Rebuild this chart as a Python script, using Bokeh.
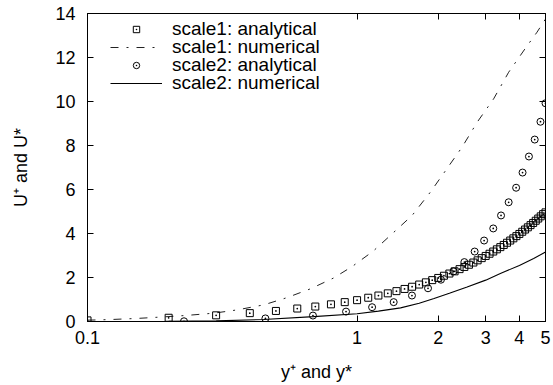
from bokeh.plotting import figure
from bokeh.models import (Range1d, FixedTicker, LinearAxis, LogAxis, Legend,
                          LegendItem, CustomJSTickFormatter, BasicTickFormatter)
from bokeh.embed import file_html
from bokeh.resources import INLINE

# scale1: analytical (squares)
sq_x = [0.1, 0.2, 0.3, 0.4, 0.5, 0.6, 0.7, 0.8, 0.9, 1.0,
        1.1, 1.2, 1.3, 1.4, 1.5, 1.6, 1.7, 1.8, 1.9, 2.0,
        2.1, 2.2, 2.3, 2.4, 2.5, 2.6, 2.7, 2.8, 2.9, 3.0,
        3.1, 3.2, 3.3, 3.4, 3.5, 3.6, 3.7, 3.8, 3.9, 4.0,
        4.1, 4.2, 4.3, 4.4, 4.5, 4.6, 4.7, 4.8, 4.9, 5.0]
sq_y = [0.05, 0.17, 0.28, 0.38, 0.48, 0.59, 0.68, 0.78, 0.88, 0.97,
        1.08, 1.18, 1.28, 1.38, 1.48, 1.58, 1.68, 1.78, 1.88, 1.98,
        2.08, 2.18, 2.28, 2.38, 2.48, 2.58, 2.68, 2.78, 2.88, 2.98,
        3.08, 3.18, 3.28, 3.38, 3.48, 3.58, 3.68, 3.78, 3.88, 3.98,
        4.08, 4.18, 4.28, 4.38, 4.48, 4.58, 4.68, 4.78, 4.88, 4.96]

# scale1: numerical (dash-dot line)
n1_x = [0.1, 0.122, 0.153, 0.192, 0.235, 0.295, 0.36, 0.452, 0.548, 0.673,
        0.816, 0.959, 1.148, 1.339, 1.6, 1.87, 2.13, 2.45, 2.79, 3.21,
        3.65, 4.2, 4.65, 5.0]
n1_y = [0.06, 0.09, 0.14, 0.21, 0.28, 0.38, 0.53, 0.76, 1.08, 1.49,
        1.97, 2.5, 3.2, 3.95, 4.82, 5.88, 6.86, 7.92, 9.06, 10.12,
        11.33, 12.4, 13.15, 13.75]

# scale2: analytical (circles)
c_x = [0.228, 0.457, 0.686, 0.91, 1.137, 1.367, 1.598, 1.833, 2.047, 2.28,
       2.5, 2.73, 2.96, 3.2, 3.42, 3.65, 3.89, 4.11, 4.34, 4.56, 4.79, 5.0]
c_y = [0.01, 0.14, 0.27, 0.45, 0.65, 0.88, 1.18, 1.51, 1.9, 2.28,
       2.7, 3.18, 3.68, 4.23, 4.82, 5.42, 6.08, 6.77, 7.5, 8.27, 9.08, 9.92]

# scale2: numerical (solid line)
n2_x = [0.1, 0.2, 0.3, 0.45, 0.69, 1.0, 1.2, 1.45, 1.7, 1.93, 2.2, 2.56,
        3.0, 3.4, 4.0, 4.52, 5.0]
n2_y = [0.0, 0.01, 0.03, 0.09, 0.22, 0.35, 0.47, 0.62, 0.83, 1.05, 1.28, 1.57,
        1.88, 2.18, 2.55, 2.86, 3.16]

x_ticks = [0.1, 1, 2, 3, 4, 5]
x_tick_labels = {0.1: "0.1", 1: "1", 2: "2", 3: "3", 4: "4", 5: "5"}
y_ticks = [0, 2, 4, 6, 8, 10, 12, 14]
legend_labels = ["scale1: analytical", "scale1: numerical",
                 "scale2: analytical", "scale2: numerical"]

FONT = "Liberation Sans"

p = figure(width=553, height=385, x_axis_type="log",
           x_range=Range1d(0.1, 5), y_range=Range1d(0, 14),
           output_backend="svg", toolbar_location=None,
           min_border_left=87, min_border_right=8,
           min_border_top=13, min_border_bottom=64)
p.xgrid.grid_line_color = None
p.ygrid.grid_line_color = None
p.outline_line_color = "black"
p.outline_line_width = 1

def style_axis(ax):
    ax.axis_line_color = "black"
    ax.major_tick_in = 6
    ax.major_tick_out = 0
    ax.minor_tick_in = 0
    ax.minor_tick_out = 0
    ax.major_tick_line_color = "black"
    ax.major_label_text_font = FONT
    ax.major_label_text_font_size = "18px"
    ax.major_label_text_color = "black"
    ax.axis_label_text_font = FONT
    ax.axis_label_text_font_size = "18px"
    ax.axis_label_text_font_style = "normal"
    ax.axis_label_text_color = "black"

xa = p.xaxis[0]
xa.ticker = FixedTicker(ticks=x_ticks, minor_ticks=[])
xa.formatter = BasicTickFormatter()
xa.major_label_overrides = x_tick_labels
xa.axis_label = "y⁺ and y*"
style_axis(xa)
xa.major_label_standoff = 9
xa.axis_label_standoff = 15

ya = p.yaxis[0]
ya.ticker = FixedTicker(ticks=y_ticks, minor_ticks=[])
ya.axis_label = "U⁺ and U*"
style_axis(ya)
ya.major_label_standoff = 12
ya.axis_label_standoff = 21

blank = CustomJSTickFormatter(code="return ''")
top = LogAxis(ticker=FixedTicker(ticks=x_ticks, minor_ticks=[]), formatter=blank)
style_axis(top)
top.major_label_standoff = 0
p.add_layout(top, "above")
right = LinearAxis(ticker=FixedTicker(ticks=y_ticks, minor_ticks=[]), formatter=blank)
style_axis(right)
right.major_label_standoff = 0
p.add_layout(right, "right")

r_n2 = p.line(n2_x, n2_y, line_color="black", line_width=1.1)
r_n1 = p.line(n1_x, n1_y, line_color="#222222", line_width=1, line_dash="8 8 2 8")
r_sq = p.scatter(sq_x, sq_y, marker="square_dot", size=7, line_color="black",
                 line_width=1, fill_color=None)
r_c = p.scatter(c_x, c_y, marker="circle_dot", size=7, line_color="black",
                line_width=1, fill_color=None)

# one single-row legend per entry, so that the rows sit 18 px apart as in the reference
row_offsets = [281, 263, 245, 227]
for lab, rend, vy in zip(legend_labels, [r_sq, r_n1, r_c, r_n2], row_offsets):
    lg = Legend(items=[LegendItem(label=lab, renderers=[rend])], location=(23, vy))
    lg.border_line_alpha = 0
    lg.background_fill_alpha = 0
    lg.label_text_font = FONT
    lg.label_text_font_size = "19px"
    lg.label_text_color = "black"
    lg.glyph_width = 52
    lg.glyph_height = 16
    lg.label_height = 16
    lg.spacing = 0
    lg.padding = 0
    lg.margin = 0
    lg.label_standoff = 10
    p.add_layout(lg)

open("out.html", "w").write(file_html(p, INLINE))
